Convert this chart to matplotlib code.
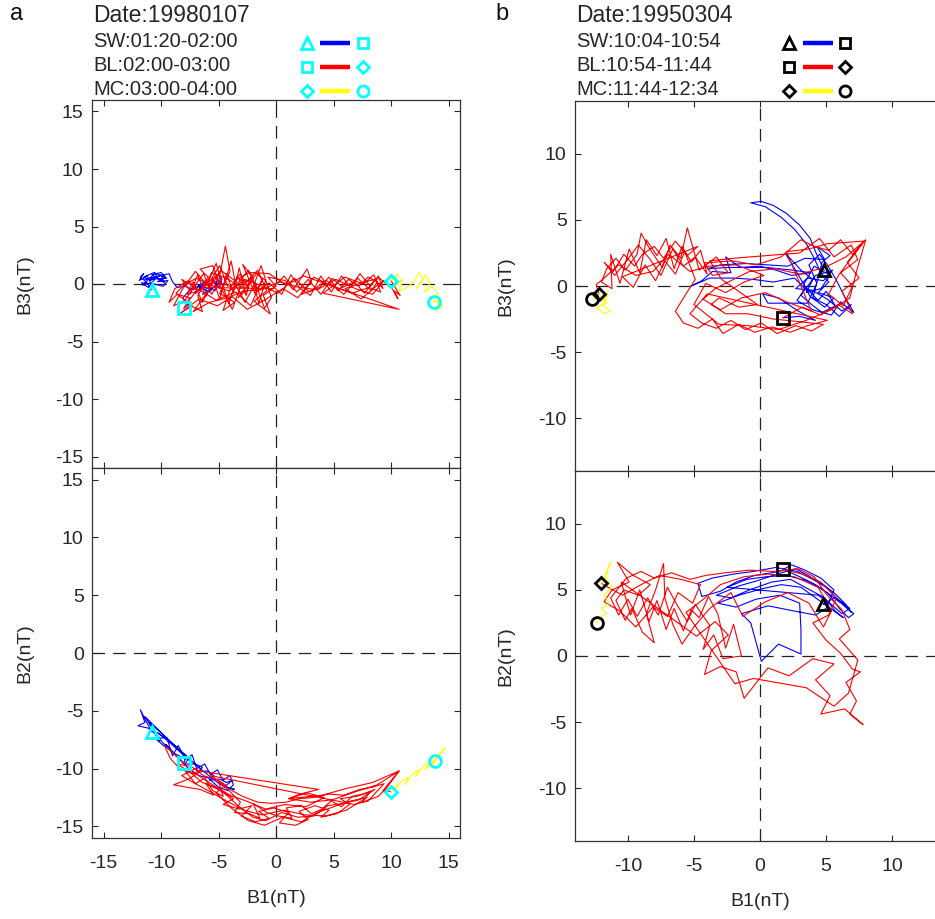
import numpy as np
import matplotlib
matplotlib.use("Agg")
import matplotlib.pyplot as plt

plt.rcParams["font.family"] = ["Liberation Sans", "DejaVu Sans"]
plt.rcParams["axes.unicode_minus"] = False

# Panel labels and event info
panel_tags = ["a", "b"]
dates = ["Date:19980107", "Date:19950304"]
periods_a = ["SW:01:20-02:00", "BL:02:00-03:00", "MC:03:00-04:00"]
periods_b = ["SW:10:04-10:54", "BL:10:54-11:44", "MC:11:44-12:34"]
seg_colors = ["#0000FF", "#FF0000", "#FFFF00"]

ticks_a = [-15, -10, -5, 0, 5, 10, 15]
ticks_b = [-10, -5, 0, 5, 10]

# ---------------- event a (1998-01-07), B1 vs B3 ----------------
a_top_sw = [(-10.8, -0.5), (-11.3, 0.2), (-11.8, 0.6), (-11.5, 0.9), (-11.9, 0.3), (-11.2, 0.7),
            (-10.9, 0.1), (-11.6, -0.1), (-11.0, 0.5), (-10.5, 0.9), (-10.2, 0.4), (-10.8, 0.8),
            (-10.0, 1.0), (-9.6, 0.6), (-10.3, 0.2), (-9.4, 0.3), (-9.8, -0.2), (-10.6, 0.0),
            (-11.7, 0.1), (-11.1, -0.3), (-10.4, 0.6), (-9.7, 0.1), (-10.0, 0.8), (-10.9, 0.3),
            (-11.5, 0.6), (-10.6, 1.0), (-9.5, 0.5),
            (-11.4, 0.4), (-10.1, 0.7), (-9.3, 0.9), (-9.0, 0.2), (-8.6, -0.3), (-7.9, -0.2),
            (-7.2, -0.5), (-6.6, -0.1), (-6.0, -0.4), (-5.4, 0.2), (-5.0, -0.3), (-4.7, 0.4),
            (-5.0, 1.0), (-5.3, -0.6), (-6.2, 0.1), (-7.0, -0.8), (-6.5, -0.3), (-5.8, -0.7),
            (-6.8, -0.2), (-6.1, 0.3), (-5.6, -0.5), (-6.4, -0.9), (-5.2, -0.1), (-4.8, 0.3),
            (-7.4, -0.4), (-8.1, -1.2), (-7.6, -1.8), (-8.0, -2.1)]
a_top_bl = [(-8.0, -2.1), (-7.5, -1.2), (-8.6, -0.9), (-9.3, -1.6), (-8.8, -0.4), (-7.6, 0.3),
            (-6.9, -0.6), (-7.8, -1.7), (-6.4, -2.4), (-6.8, -1.0), (-5.9, 0.6), (-6.6, 1.3),
            (-5.5, 1.6), (-5.0, 0.2), (-4.4, 3.3), (-4.0, 1.1), (-4.9, -0.8), (-3.6, -1.6),
            (-4.6, -2.3), (-3.9, -0.2), (-3.1, 0.9), (-2.4, -0.4), (-3.3, -1.2), (-2.0, 0.6),
            (-2.9, 1.7), (-1.8, -0.9), (-1.2, 0.4), (-2.2, -1.9), (-3.5, -0.7), (-5.2, -1.4),
            (-8.2, 0.4), (-7.4, -0.7), (-6.8, 0.8), (-6.1, -1.1), (-5.5, 0.5), (-4.9, -1.3),
            (-4.3, 0.9), (-3.7, -0.8), (-3.2, 1.4), (-2.6, -1.0), (-2.1, 0.8), (-1.5, -1.7),
            (-0.9, 0.3), (-1.7, 0.9), (-2.5, -0.2), (-3.4, 0.6), (-4.1, -1.7), (-4.8, 0.3),
            (-5.6, -0.9), (-6.3, 0.9), (-7.1, -0.2), (-7.9, -1.4), (-8.9, -1.9), (-8.1, -0.4),
            (-7.0, 1.1), (-6.0, -0.1), (-5.2, 1.8), (-4.6, -0.4), (-3.9, 2.0), (-3.5, -0.1),
            (-2.7, -1.6), (-2.0, -0.3), (-1.3, 1.6), (-0.4, -1.2), (-1.0, -2.1), (-1.8, 0.1),
            (-2.9, 0.3), (-3.8, -2.2), (-4.5, -0.9), (-5.3, 0.7), (-6.4, -1.6), (-7.2, 0.2),
            (-7.7, -0.9), (-6.5, -0.5), (-5.7, 0.3), (-4.9, 1.6), (-4.2, -0.2), (-3.3, 0.1),
            (-2.4, 1.2), (-1.6, -0.6), (-0.6, 0.1), (0.5, -0.9), (1.3, 0.8), (2.1, -0.4),
            (3.0, -1.0), (3.9, 0.7), (4.8, -0.7), (5.7, 0.7), (6.5, -0.3), (7.3, 0.9),
            (8.2, -0.2), (8.9, 0.7), (9.3, -0.4), (8.6, 0.4), (7.7, -0.8), (6.8, 0.2),
            (5.8, -0.3), (4.9, 0.5), (3.9, -0.9), (2.8, 0.4), (1.8, -0.7), (0.7, 0.7), (-0.3, -0.4),
            (-6.2, -0.3), (-5.6, 1.0), (-4.3, 0.5), (-3.0, -0.3), (-1.6, 1.2), (-0.8, -0.6),
            (-1.9, -1.5), (-0.5, -2.6), (-1.1, -1.0), (0.0, -0.2), (-0.7, 0.6), (0.8, 0.3),
            (1.5, -0.5), (2.7, 1.3), (3.1, 0.2), (2.2, -0.9), (3.8, -0.3), (4.6, 0.6),
            (5.4, -0.6), (6.3, 0.4), (7.2, -0.2), (8.0, 0.6), (8.8, 0.2), (8.3, -0.6),
            (7.1, 0.5), (5.9, -0.9), (4.4, 0.3), (2.9, -0.7), (1.6, 0.5), (0.2, -0.8),
            (-1.4, -0.1), (-2.7, 0.4), (-4.1, -0.6), (-5.4, -0.2), (-6.9, 0.5), (-7.9, 0.0),
            (-8.7, -0.8), (-7.3, -1.9), (-8.4, -2.6), (-6.7, -1.3), (-5.1, -1.9), (-3.8, -1.1),
            (-2.5, -2.2), (-1.0, -1.4), (0.6, -0.4), (1.9, -1.2), (3.3, 0.6), (4.9, -0.2),
            (6.6, -0.8), (8.1, -0.3), (9.1, -0.7), (8.5, 0.8), (7.6, 0.0), (6.0, 0.6),
            (4.1, -0.8), (10.7, -2.2), (2.4, 0.7), (0.9, -0.1), (-0.6, 0.9), (-2.3, 1.0),
            (-3.6, 0.3), (-4.8, 1.2), (-6.1, -0.9), (-7.2, -2.4), (-5.8, -1.6), (-4.2, -1.2),
            (-2.8, -0.6), (-1.3, -0.5), (0.4, 0.2), (2.0, -0.3), (3.6, -0.5), (5.2, 0.4),
            (6.9, -0.4), (8.4, -0.9), (9.4, 0.3), (8.7, -0.2), (7.4, -1.3), (6.0, -0.4),
            (7.8, 0.2), (9.0, 0.5), (10.1, -0.4), (10.6, -1.3), (10.3, -0.6), (10.8, -1.0),
            (10.0, 0.3)]
a_top_mc = [(10.0, 0.3), (10.6, 0.9), (10.4, -0.2), (11.0, 0.5), (10.7, -0.6), (11.4, -0.3),
            (12.0, 0.2), (12.4, 1.0), (12.8, 0.4), (12.2, -0.4), (13.0, 0.8), (13.4, 0.1),
            (12.9, -0.7), (13.6, -0.2), (14.1, -0.9), (13.3, -1.2), (14.5, -1.8), (13.9, -2.4),
            (14.2, -1.4), (13.7, -1.6)]

# ---------------- event a, B1 vs B2 ----------------
a_bot_sw = [(-10.8, -6.8), (-11.3, -5.9), (-11.8, -4.9), (-11.4, -6.0), (-12.0, -6.3), (-11.1, -6.5),
            (-10.5, -7.0), (-10.1, -7.6), (-10.6, -7.3), (-9.8, -8.0), (-9.2, -8.3), (-9.6, -7.9),
            (-8.8, -8.7), (-8.2, -9.0), (-7.6, -9.1), (-7.9, -9.6), (-7.0, -9.6), (-6.4, -9.9),
            (-6.8, -10.3), (-6.0, -10.2), (-5.4, -10.6), (-5.8, -11.0), (-4.9, -10.9), (-4.3, -11.2),
            (-3.8, -11.0), (-4.5, -11.6), (-3.6, -11.8), (-4.8, -11.4), (-5.6, -10.8), (-6.6, -10.0),
            (-11.0, -6.0), (-10.3, -7.4), (-9.5, -7.3), (-9.0, -8.9), (-8.5, -8.0), (-7.9, -9.2),
            (-7.3, -8.8), (-6.9, -10.0), (-6.2, -9.6), (-5.7, -10.5), (-5.1, -10.1), (-4.6, -11.0),
            (-4.0, -10.6), (-3.7, -11.4), (-4.2, -11.9), (-5.0, -11.6), (-5.9, -10.8), (-6.7, -10.6),
            (-7.6, -10.0), (-8.4, -9.2), (-9.1, -8.5), (-9.9, -7.7), (-10.7, -6.6), (-11.4, -5.5),
            (-7.4, -9.4), (-8.3, -8.6), (-9.4, -7.6), (-10.3, -6.9), (-9.7, -7.3), (-8.6, -8.2),
            (-7.8, -8.9), (-8.0, -9.5)]
a_bot_bl = [(-8.0, -9.5), (-9.0, -8.6), (-9.7, -8.0), (-9.2, -9.1), (-8.4, -10.0), (-7.3, -10.4),
            (-6.5, -10.2), (-7.6, -10.9), (-8.9, -11.4), (-7.8, -11.6), (-6.6, -11.8), (-5.4, -12.3),
            (-6.1, -11.3), (-4.8, -11.9), (-3.7, -12.6), (-4.6, -13.1), (-3.2, -13.5), (-2.1, -13.2),
            (-3.0, -14.1), (-1.8, -14.6), (-0.6, -14.3), (-1.5, -13.7), (-0.2, -13.4), (1.1, -13.8),
            (0.3, -14.7), (1.7, -14.9), (2.8, -14.4), (2.0, -13.7), (3.4, -13.2), (4.6, -13.6),
            (3.9, -14.2), (5.3, -13.9), (6.4, -13.1), (5.6, -12.6), (7.0, -12.4), (8.2, -12.0),
            (7.5, -12.9), (8.9, -12.4), (9.6, -11.7), (10.7, -10.2), (8.8, -11.4), (6.9, -12.0),
            (4.9, -12.7), (3.0, -12.9), (1.1, -12.6), (2.7, -12.1), (4.2, -12.5), (2.6, -13.3),
            (0.8, -13.1), (-0.9, -13.5), (-2.6, -12.8), (-4.0, -12.3), (-5.5, -11.4), (-6.9, -10.5),
            (-7.9, -10.2), (-7.0, -11.3), (-6.2, -10.8), (-5.5, -11.9), (-4.6, -12.4), (-5.0, -11.1),
            (-4.0, -12.0), (-3.1, -12.9), (-3.6, -13.8), (-2.3, -13.9), (-1.4, -14.3), (-2.0, -13.0),
            (-0.8, -13.8), (0.2, -14.1), (1.4, -14.3), (0.9, -13.4), (2.2, -13.2), (3.1, -13.9),
            (4.0, -13.5), (4.8, -12.8), (5.7, -13.3), (6.6, -12.4), (7.6, -12.2), (8.6, -11.8),
            (7.2, -12.7), (5.9, -13.0), (4.5, -13.2), (3.3, -14.1), (1.9, -14.2), (0.5, -13.8),
            (-0.9, -14.5), (-2.0, -14.2), (-3.3, -13.2), (-4.4, -12.2), (-5.3, -11.6), (-6.4, -11.2),
            (-7.5, -10.3), (-8.6, -9.6), (-7.4, -9.8), (-6.3, -10.6), (-5.1, -11.0), (-4.0, -11.8),
            (-2.9, -12.4), (-1.6, -12.9), (-0.4, -13.0), (0.9, -12.9), (2.0, -12.6), (3.2, -12.5),
            (4.6, -12.2), (5.9, -12.3), (7.3, -11.8), (8.4, -11.6), (9.4, -11.3), (8.0, -12.8),
            (6.8, -13.1),
            (-5.7, -10.6), (-4.4, -11.4), (-5.2, -12.1), (-3.9, -13.4), (-2.4, -14.5), (-1.0, -14.9),
            (0.6, -14.2), (2.2, -14.6), (3.6, -13.8), (5.0, -13.3), (6.5, -12.8), (7.9, -12.5),
            (6.1, -13.6), (4.3, -14.1), (2.5, -14.0), (0.7, -13.6), (-1.2, -14.0), (-2.8, -13.6),
            (-4.3, -12.8), (-5.9, -11.9), (-7.2, -11.2), (-8.2, -10.6), (-7.0, -10.0), (-6.7, -10.2),
            (3.7, -11.8), (2.1, -12.2), (1.1, -12.6), (4.0, -12.3), (6.2, -11.7), (8.4, -11.2),
            (10.7, -10.2), (9.3, -11.9), (10.0, -12.0)]
a_bot_mc = [(10.0, -12.0), (10.6, -11.3), (10.3, -11.8), (11.0, -11.0), (11.5, -10.8), (11.2, -11.4),
            (11.9, -10.4), (12.4, -10.1), (12.1, -10.7), (12.8, -9.8), (13.3, -9.5), (13.0, -10.1),
            (13.9, -9.1), (14.7, -8.2), (14.2, -8.9), (13.5, -9.8), (13.8, -9.3)]

# ---------------- event b (1995-03-04), B1 vs B3 ----------------
b_top_sw = [(4.85, 1.2), (4.2, 2.6), (3.8, 3.6), (3.0, 4.6), (2.0, 5.5), (1.0, 6.1), (0.1, 6.4),
            (-0.7, 6.3), (0.4, 6.0), (1.6, 5.2), (2.6, 4.3), (3.5, 3.2), (4.1, 2.1), (4.6, 1.0),
            (5.2, 0.3), (4.4, -0.5), (5.6, -0.9), (4.9, -1.6), (3.8, -0.8), (3.1, 0.5), (1.9, 2.5),
            (3.2, 1.1), (4.0, 0.5), (3.5, -0.5), (4.6, -0.2), (5.3, 0.8), (4.1, 1.5), (3.3, 0.1),
            (4.4, -1.1), (5.0, -0.4), (5.7, -1.5), (4.7, -2.0), (3.9, -1.4), (3.1, -0.7), (4.2, 0.8),
            (5.5, 1.2), (4.8, 0.4), (3.6, 0.6), (2.7, -0.2), (3.9, -0.3), (5.1, -1.0), (6.2, -1.9),
            (6.9, -1.4), (6.0, -2.3), (5.0, -1.4), (4.0, -0.9), (4.7, 1.8), (5.3, 2.3), (4.3, 3.0),
            (4.9, 2.0), (3.4, 2.1), (2.1, 1.5), (-1.0, 1.7), (-3.0, 1.6), (-4.0, 1.3), (-2.5, 1.4),
            (0.5, 1.4), (2.5, 1.2), (3.8, 1.0),
            (2.4, 0.8), (1.2, 1.2), (0.0, 1.5), (-1.5, 1.4), (-2.6, 2.2), (-2.2, 1.0), (-3.6, 1.1),
            (-4.4, 0.4), (-5.2, 0.0), (-3.8, 0.6), (-2.0, 0.6), (-0.5, 0.5), (1.0, 0.3), (2.6, 0.6),
            (3.4, -0.2), (2.8, -1.1), (4.0, -1.8), (5.4, -2.2), (6.1, -1.2), (6.7, -1.7), (7.1, -2.0),
            (6.4, -0.8), (5.8, 0.4), (5.1, 1.6), (4.5, 2.4), (3.7, 1.6), (4.3, 0.2), (3.6, -1.3),
            (0.6, -1.3), (0.2, -0.6), (1.4, -0.9), (2.9, -1.9), (4.2, -2.6), (3.0, -2.3), (1.75, -2.4)]
b_top_bl = [(1.75, -2.4), (3.2, -1.6), (4.6, -2.2), (5.9, -1.4), (7.0, -2.1), (6.2, -0.4), (7.5, 0.6),
            (6.6, 1.8), (7.8, 3.3), (7.0, 2.4), (6.1, 3.5), (5.2, 2.7), (4.1, 3.0), (3.1, 3.5),
            (1.6, 2.2), (-0.3, 1.6), (-2.1, 1.9), (-4.2, 1.75), (-3.6, 0.8), (-2.4, 1.0), (-3.3, 2.2),
            (-4.6, 1.2), (-5.5, 4.4), (-6.0, 2.1), (-6.8, 3.1), (-7.4, 1.4), (-8.4, 2.9), (-9.0, 4.0),
            (-9.3, 2.4), (-10.2, 1.2), (-10.9, 2.1), (-11.6, 1.3), (-12.0, 0.3), (-11.2, -0.2),
            (-11.3, 2.4), (-10.6, 0.2), (-9.9, 2.8), (-9.1, 1.0), (-8.6, 3.5), (-7.8, 2.3), (-7.1, 3.6),
            (-6.5, 1.3), (-5.9, 3.0), (-5.2, 1.8), (-4.5, 2.7), (-4.0, 0.9), (-4.9, 2.2), (-5.8, 1.5),
            (-6.6, 2.8), (-7.5, 0.8), (-8.3, 2.0), (-9.2, 3.1), (-10.1, 1.9), (-11.0, 0.8), (-11.8, 1.8),
            (-11.1, 1.1), (-10.3, 2.4), (-9.5, 1.5), (-8.9, 2.4), (-8.0, 3.0), (-7.3, 2.1), (-6.4, 3.4),
            (-5.5, 2.3), (-4.7, 3.0),
            (-10.4, 0.7), (-9.6, -0.1), (-8.7, 1.6), (-7.9, 0.4), (-7.2, 1.9), (-6.4, 0.9), (-5.7, 2.6),
            (-4.9, 0.5), (-5.6, -0.6), (-6.4, -1.9), (-5.8, -2.8), (-4.7, -3.2), (-3.6, -2.5),
            (-2.8, -3.6), (-1.6, -2.9), (-0.4, -3.5), (0.9, -3.1), (2.3, -3.5), (3.6, -3.0), (5.1, -2.6),
            (-4.0, -0.6), (-5.3, -2.1), (-4.4, -2.8), (-3.3, -3.2), (-2.2, -2.6), (-1.1, -3.3),
            (0.1, -2.8), (1.3, -3.6), (2.7, -3.0), (3.9, -3.4), (4.8, -2.9), (3.0, -2.7), (1.0, -2.5),
            (-0.9, -2.1), (-2.6, -2.1), (-3.7, -1.4), (-3.1, -0.9), (-1.6, -1.6), (-0.2, -1.4),
            (-2.9, 0.5), (-3.8, 1.9), (-2.0, 2.1),
            (3.0, 2.5), (4.5, 3.6), (5.6, 2.2), (6.9, 3.1), (7.4, 2.0), (6.1, 1.0), (7.0, 0.0),
            (6.3, -1.5), (5.2, -0.6), (6.0, 0.9), (7.9, 3.4), (5.1, 3.2), (3.7, 2.8), (2.0, 2.6),
            (3.9, -1.9), (2.0, -1.2), (0.4, -0.5), (-1.4, -0.9), (-3.0, -1.8), (-4.3, -1.0), (-3.4, -0.2),
            (-2.2, 0.4), (-0.8, 1.1), (1.2, 1.3), (3.0, 0.9), (4.9, 1.4), (6.5, 2.2), (8.0, 3.5),
            (7.3, 1.1), (6.8, -0.9), (5.4, -1.8), (3.5, -2.6), (1.4, -3.3), (-0.9, -3.0), (-3.1, -2.9),
            (-5.0, -1.4), (-4.1, 0.2), (-2.6, -0.5), (-1.2, 0.3), (0.3, 0.8), (-1.8, 1.6), (-3.9, 1.5),
            (-5.3, 1.1), (-6.9, 2.4), (-8.1, 1.1), (-9.4, 0.8), (-10.7, 1.6), (-11.9, 0.5), (-12.4, 0.1),
            (-12.2, -0.6)]
b_top_mc = [(-12.2, -0.6), (-11.7, -1.1), (-11.5, -0.4), (-11.9, -1.5), (-11.3, -1.9), (-11.8, -2.1),
            (-12.4, -1.6), (-11.6, -1.3), (-12.1, -0.9), (-12.7, -1.0)]

# ---------------- event b, B1 vs B2 ----------------
b_bot_sw = [(4.8, 3.9), (5.6, 4.4), (6.4, 3.8), (7.1, 3.2), (6.7, 2.9), (6.0, 3.6), (5.2, 4.7),
            (4.2, 5.4), (3.0, 6.0), (1.9, 6.5), (0.9, 6.3), (-0.4, 6.1), (-1.8, 5.6), (-3.0, 4.9),
            (-4.4, 4.5), (-4.7, 5.5), (-3.6, 5.9), (-2.0, 6.2), (-0.5, 6.4), (1.2, 6.7), (2.8, 6.4),
            (4.0, 5.8), (5.0, 5.2), (5.9, 4.3), (6.8, 3.6), (6.2, 3.2), (5.4, 3.9), (4.4, 4.6),
            (-2.5, 5.2), (-1.0, 5.8), (0.5, 6.0), (2.0, 6.1), (3.5, 5.7), (4.6, 5.1), (5.5, 4.5),
            (6.2, 4.0), (6.9, 3.3), (6.5, 3.9), (5.7, 4.7), (4.8, 5.4), (3.8, 6.0), (2.7, 6.6),
            (1.3, 6.2), (-0.2, 5.7), (-1.6, 5.3), (-3.3, 4.6), (-2.2, 4.4), (-0.8, 5.0), (0.9, 5.6),
            (2.3, 5.8), (3.6, 5.1), (4.9, 4.4), (5.7, 3.4), (6.3, 2.9),
            (3.1, 5.2), (1.6, 5.4), (0.2, 5.1), (-1.6, 4.6), (-3.2, 4.0), (-1.8, 3.7), (-0.3, 4.3),
            (1.5, 4.6), (3.0, 4.0), (3.1, 2.0), (3.1, 0.15), (1.4, 0.9), (0.1, -0.4), (-0.7, 2.5),
            (-1.4, 3.2), (0.6, 3.8), (2.6, 3.4), (4.2, 3.1), (5.0, 3.6), (5.6, 5.0), (4.6, 5.9),
            (3.4, 6.5), (2.4, 6.9), (1.75, 6.55)]
b_bot_bl = [(1.75, 6.55), (3.2, 6.2), (4.6, 5.6), (5.8, 4.4), (5.2, 3.1), (4.0, 2.5), (5.0, 1.2),
            (6.1, 0.2), (7.0, -1.0), (7.6, -1.2), (6.5, -2.0), (7.3, -3.4), (6.8, -4.4), (7.8, -5.2),
            (6.4, -4.0), (4.6, -4.4), (5.3, -3.0), (4.2, -1.8), (5.6, -0.6), (4.0, -0.2), (2.2, -1.5),
            (0.6, -0.9), (-1.2, -3.2), (-1.8, -1.2), (-3.0, -0.8), (-4.2, -1.4), (-3.7, 0.4),
            (-2.4, 1.6), (-3.4, 2.6), (-4.8, 1.5),
            (-10.5, 5.6), (-9.8, 3.1), (-9.1, 5.0), (-8.4, 2.6), (-7.8, 4.2), (-7.1, 2.0), (-6.5, 3.6),
            (-5.8, 1.9), (-5.2, 3.5), (-4.6, 2.9), (-3.9, 4.5), (-3.2, 3.2), (-2.6, 0.6), (-2.0, 2.4),
            (-1.4, 0.0), (-2.8, -0.2), (-3.5, 1.6), (-4.3, 0.5), (-3.8, 2.3), (-4.9, 3.9), (-5.5, 2.6),
            (-6.3, 3.9), (-7.0, 5.2), (-7.7, 3.1), (-8.5, 4.4), (-9.3, 3.0), (-10.0, 4.3), (-10.7, 3.1),
            (-11.3, 4.4), (-10.1, 5.9), (-9.0, 6.4), (-8.0, 5.9), (-6.7, 6.3), (-5.3, 5.8), (-4.1, 6.1),
            (-2.6, 6.3), (-0.8, 6.5), (1.0, 6.4), (2.9, 6.6), (4.1, 6.0), (5.0, 4.7), (6.2, 3.5),
            (6.8, 2.0), (6.0, 1.3), (7.4, -0.3), (6.7, -2.8), (5.6, -3.8), (3.5, -2.4), (1.2, -2.0),
            (-0.5, -1.7), (-1.9, -2.1),
            (-5.6, 3.3), (-4.4, 4.2), (-3.0, 5.4), (-1.2, 6.0),
            (0.6, 6.2), (2.6, 6.0), (4.4, 5.2), (5.4, 3.4), (4.8, 2.2), (3.7, 4.0), (2.1, 4.8),
            (0.4, 4.1), (-1.3, 3.0), (-2.2, 4.8), (-3.8, 3.6), (-5.0, 2.2), (-5.9, 0.9), (-6.6, 2.4),
            (-7.2, 4.4), (-7.3, 7.0), (-7.9, 5.0), (-8.6, 3.2), (-8.0, 1.0), (-8.9, 1.8), (-9.7, 3.6),
            (-10.2, 2.7), (-10.9, 4.2), (-10.3, 5.0), (-9.2, 4.6), (-8.3, 5.4), (-9.6, 6.1),
            (-10.8, 7.1), (-9.9, 5.6), (-11.2, 5.0), (-11.8, 4.1), (-10.6, 3.4), (-9.4, 2.2),
            (-8.1, 3.7), (-7.0, 3.0), (-6.2, 4.8), (-5.1, 4.0), (-4.5, 5.4), (-6.0, 5.8), (-7.6, 6.1),
            (-9.0, 5.4), (-10.4, 4.6), (-11.5, 5.2), (-12.0, 5.5)]
b_bot_mc = [(-12.0, 5.5), (-11.6, 6.4), (-11.3, 7.1), (-11.7, 6.0), (-11.2, 5.2), (-11.8, 4.6),
            (-11.4, 4.0), (-12.0, 3.6), (-11.6, 3.2), (-12.2, 2.9), (-12.3, 2.5)]

W, H = 935, 919
fig = plt.figure(figsize=(W / 100, H / 100), dpi=100)


def px_axes(x0, y_top, w, h):
    # axes placed by pixel box (y measured from the top)
    return fig.add_axes([x0 / W, 1 - (y_top + h) / H, w / W, h / H])


def draw_panel(ax, segs, mcol, lim, ticks, ylabel, show_x):
    for pts, c in zip(segs, seg_colors):
        p = np.array(pts)
        ax.plot(p[:, 0], p[:, 1], color=c, lw=0.8, zorder=2)
    ax.axhline(0, color="#222222", lw=0.9, ls=(0, (10, 6.5)), zorder=1)
    ax.axvline(0, color="#222222", lw=0.9, ls=(0, (10, 6.5)), zorder=1)
    sw, bl, mc = segs
    mk = dict(mfc="none", mec=mcol, mew=2, ls="none", zorder=4)
    ax.plot(*sw[0], marker="^", ms=9, **mk)
    ax.plot(*sw[-1], marker="s", ms=8, **mk)
    ax.plot(*bl[-1], marker="D", ms=6.5, **mk)
    ax.plot(*mc[-1], marker="o", ms=8.5, **mk)
    ax.set_xlim(-lim, lim)
    ax.set_ylim(-lim, lim)
    ax.set_xticks(ticks)
    ax.set_yticks(ticks)
    ax.tick_params(direction="in", top=True, right=True, length=4, width=0.8,
                   labelsize=14, colors="#262626", pad=6)
    ax.tick_params(axis="x", pad=12, labelbottom=show_x)
    for s in ax.spines.values():
        s.set_color("#333333")
        s.set_linewidth(0.9)
    ax.set_ylabel(ylabel, fontsize=14, color="#262626")
    if show_x:
        ax.set_xlabel("B1(nT)", fontsize=14, color="#262626")


ax_a3 = px_axes(92, 100, 368, 368)
ax_a2 = px_axes(92, 468, 368, 370)
ax_b3 = px_axes(575, 101, 370, 370)
ax_b2 = px_axes(575, 471, 370, 370)

draw_panel(ax_a3, [a_top_sw, a_top_bl, a_top_mc], "#00FFFF", 16, ticks_a, "B3(nT)", False)
draw_panel(ax_a2, [a_bot_sw, a_bot_bl, a_bot_mc], "#00FFFF", 16, ticks_a, "B2(nT)", True)
draw_panel(ax_b3, [b_top_sw, b_top_bl, b_top_mc], "black", 14, ticks_b, "B3(nT)", False)
draw_panel(ax_b2, [b_bot_sw, b_bot_bl, b_bot_mc], "black", 14, ticks_b, "B2(nT)", True)

for ax in (ax_a3, ax_a2):
    ax.yaxis.set_label_coords(-0.16, 0.5)
for ax in (ax_b3, ax_b2):
    ax.yaxis.set_label_coords(-0.165, 0.5)
ax_a2.xaxis.set_label_coords(0.5, -0.14)
ax_b2.xaxis.set_label_coords(0.5, -0.14)

# header texts and marker legend, drawn in pixel coordinates
lay = fig.add_axes([0, 0, 1, 1], zorder=10)
lay.set_xlim(0, W)
lay.set_ylim(H, 0)
lay.axis("off")

text_x = [93, 576]
tag_x = [10, 495]
leg_x = [(307, 320, 350, 363), (789, 803, 833, 845)]
leg_mcol = ["#00FFFF", "black"]
row_y = [43, 67, 91]
row_marks = [("^", "s"), ("s", "D"), ("D", "o")]
msz = {"^": 8.5, "s": 7.5, "D": 6, "o": 8}

for k, periods in enumerate([periods_a, periods_b]):
    lay.text(tag_x[k], 20, panel_tags[k], fontsize=17, va="baseline", color="#111111")
    lay.text(text_x[k], 22, dates[k], fontsize=16.5, va="baseline", color="#262626")
    for i, t in enumerate(periods):
        lay.text(text_x[k], 47 + 24 * i, t, fontsize=14.5, va="baseline", color="#262626")
        xm1, xl0, xl1, xm2 = leg_x[k]
        lay.plot([xl0, xl1], [row_y[i], row_y[i]], color=seg_colors[i], lw=3.2,
                 solid_capstyle="butt")
        m1, m2 = row_marks[i]
        lay.plot(xm1, row_y[i], marker=m1, ms=msz[m1], mfc="none", mec=leg_mcol[k], mew=2)
        lay.plot(xm2, row_y[i], marker=m2, ms=msz[m2], mfc="none", mec=leg_mcol[k], mew=2)

fig.savefig("out.png", dpi=100)
